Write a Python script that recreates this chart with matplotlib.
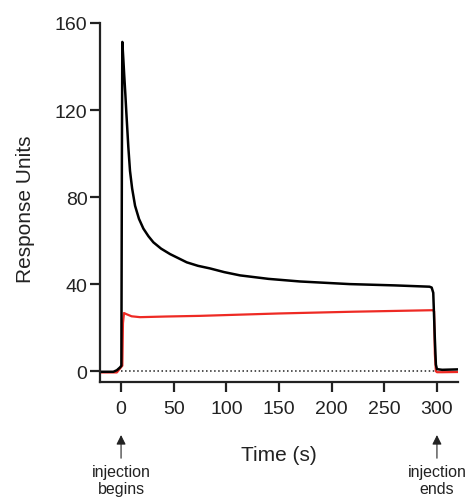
import numpy as np
import matplotlib
matplotlib.use("Agg")
from matplotlib import pyplot as plt

plt.rcParams['font.family'] = ['Liberation Sans', 'DejaVu Sans']

# black trace (analyte binding)
t_black = [-20, -7.3, -4, -1, 0.3, 0.8, 1.2, 2.2, 3.0, 4.1, 5.0, 6.9, 8.5, 10.5,
           13.3, 17, 21.2, 26, 30.7, 38, 46.5, 62.4, 73, 84.5, 98, 113, 140, 170,
           217, 260, 293, 295, 296.5, 298, 299, 300, 305, 320]
y_black = [-0.3, -0.3, 0.4, 1.7, 2.5, 100, 151.3, 143, 136, 127, 119, 103, 92, 84,
           76, 70, 65.5, 62, 59.2, 56.3, 53.8, 50, 48.4, 47.2, 45.5, 44, 42.4, 41.2,
           40, 39.4, 38.8, 38.4, 36, 15, 3, 0.9, 0.6, 0.8]

# red trace (reference)
t_red = [-20, -4, -1, 1.2, 1.8, 2.8, 5, 10, 18, 43, 75, 150, 220, 296,
         297.3, 298, 299, 300, 305, 320]
y_red = [-0.6, -0.6, 1.2, 2.5, 22, 26.7, 26.2, 25.2, 24.8, 25.1, 25.4, 26.5, 27.3, 28,
         27.5, 8, 0, -0.5, -0.5, -0.4]

xticks = [0, 50, 100, 150, 200, 250, 300]
yticks = [0, 40, 80, 120, 160]
events = [(0, 'injection\nbegins'), (300, 'injection\nends')]

ink = '#222222'
fig = plt.figure(figsize=(4.7, 5.02), dpi=100)
ax = fig.add_axes([100/470, 1-383/502, 358/470, 359/502])

ax.plot([0, 300], [0, 0], ':', color=ink, lw=1.1)
ax.plot(t_red, y_red, color='#ee2a24', lw=1.6)
ax.plot(t_black, y_black, color='black', lw=1.8)

ax.set_xlim(-20, 320)
ax.set_ylim(-5, 160)
ax.set_xticks(xticks)
ax.set_yticks(yticks)
for s in ['top', 'right']:
  ax.spines[s].set_visible(False)
for s in ['left', 'bottom']:
  ax.spines[s].set_linewidth(1.6)
  ax.spines[s].set_color(ink)
ax.tick_params(length=7, width=1.6, color=ink, labelsize=14, labelcolor=ink)
ax.tick_params(axis='x', pad=6)
ax.tick_params(axis='y', pad=2)

ax.set_xlabel('Time (s)', fontsize=15, color=ink)
ax.set_ylabel('Response Units', fontsize=15, color=ink)
ax.xaxis.set_label_coords(0.5, -0.175)
ax.yaxis.set_label_coords(-0.182, 0.485)

for x, label in events:
  ax.annotate('', xy=(x, -0.14), xycoords=('data', 'axes fraction'),
              xytext=(x, -0.22), textcoords=('data', 'axes fraction'),
              arrowprops=dict(arrowstyle='-|>', lw=0.8, color=ink, mutation_scale=14),
              annotation_clip=False)
  ax.text(x, -0.228, label, transform=ax.get_xaxis_transform(), ha='center', va='top',
          fontsize=11.5, color=ink, linespacing=1.2)

fig.savefig('out.png', dpi=100)
